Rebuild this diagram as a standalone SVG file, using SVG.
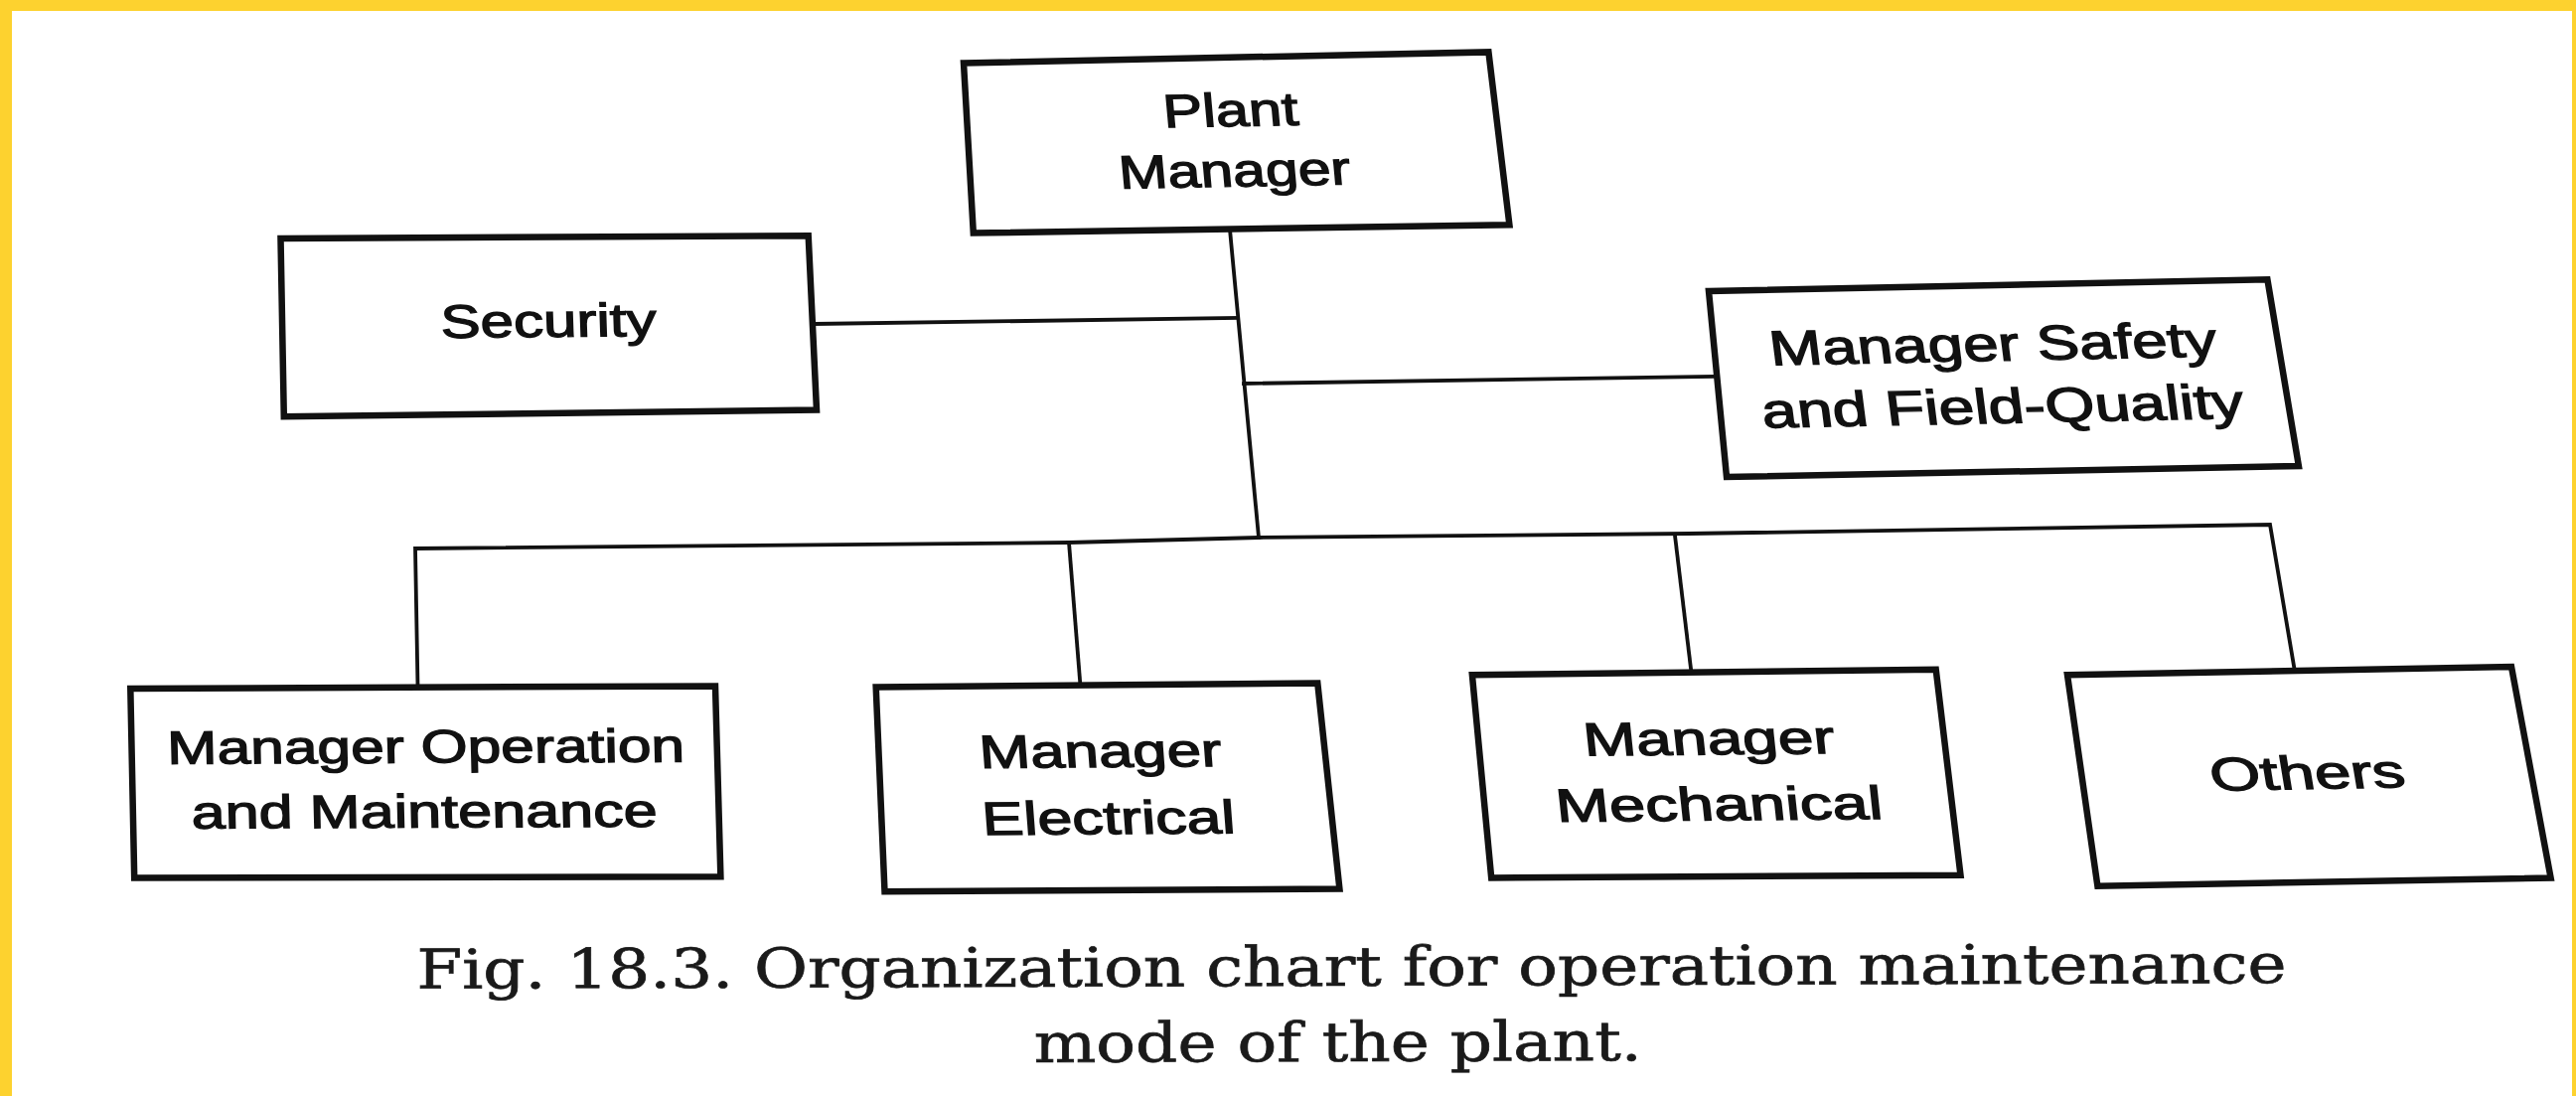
<svg xmlns="http://www.w3.org/2000/svg" width="2593" height="1103" viewBox="0 0 2593 1103">
  <style>
    .box { fill: #ffffff; stroke: #111111; stroke-width: 6.5; stroke-linejoin: miter; }
    .lbl { font-family: "Liberation Sans", Arial, sans-serif; font-size: 47px; fill: #111111; stroke: #111111; stroke-width: 1.3; text-anchor: middle; }
    .conn { fill: none; stroke: #111111; stroke-width: 3.8; stroke-linecap: square; stroke-linejoin: miter; }
    .cap { font-family: "DejaVu Serif", "Liberation Serif", serif; font-size: 55px; fill: #1a1a1a; stroke: #1a1a1a; stroke-width: 0.7; text-anchor: middle; }
  </style>
  <rect x="0" y="0" width="2593" height="1103" fill="#FDD22F"/>
  <rect x="12" y="11" width="2577" height="1092" fill="#ffffff"/>

  <g id="connectors">
    <polyline class="conn" points="1238,231 1267,541"/>
    <polyline class="conn" points="820,326 1246,320"/>
    <polyline class="conn" points="1252,386 1724,379"/>
    <polyline class="conn" points="420.5,691 418,552 1076,546 1267,541 1700,537 2285,528 2310,676"/>
    <polyline class="conn" points="1076,546 1087.4,689"/>
    <polyline class="conn" points="1686,539 1702.5,677"/>
  </g>

  <g id="node-plant-manager">
    <polygon class="box" points="970,63.4 1498.4,52.4 1519.4,226.2 979.8,234.5"/>
    <text class="lbl" transform="matrix(1 -0.018 0.09 1 1240 127)" x="0" y="0" textLength="136" lengthAdjust="spacingAndGlyphs">Plant</text>
    <text class="lbl" transform="matrix(1 -0.018 0.09 1 1244 187.6)" x="0" y="0" textLength="233" lengthAdjust="spacingAndGlyphs">Manager</text>
  </g>

  <g id="node-security">
    <polygon class="box" points="282.5,240 813.7,237.2 822,412.6 285.8,419.3"/>
    <text class="lbl" transform="matrix(1 -0.009 0.033 1 552.5 339)" x="0" y="0" textLength="217" lengthAdjust="spacingAndGlyphs">Security</text>
  </g>

  <g id="node-safety">
    <polygon class="box" points="1720,293 2282.4,281.3 2313.9,469 1738,480"/>
    <text class="lbl" style="font-size:49px" transform="matrix(1 -0.02 0.127 1 2008 363)" x="0" y="0" textLength="450" lengthAdjust="spacingAndGlyphs">Manager Safety</text>
    <text class="lbl" style="font-size:49px" transform="matrix(1 -0.02 0.127 1 2017.7 425.6)" x="0" y="0" textLength="485" lengthAdjust="spacingAndGlyphs">and Field-Quality</text>
  </g>

  <g id="node-operation-maintenance">
    <polygon class="box" points="131.3,693.1 720,690.4 725.4,882.3 135.2,883.4"/>
    <text class="lbl" transform="matrix(1 -0.004 0.024 1 429 767.6)" x="0" y="0" textLength="521" lengthAdjust="spacingAndGlyphs">Manager Operation</text>
    <text class="lbl" transform="matrix(1 -0.004 0.024 1 427.5 832.7)" x="0" y="0" textLength="469" lengthAdjust="spacingAndGlyphs">and Maintenance</text>
  </g>

  <g id="node-electrical">
    <polygon class="box" points="881.7,691.5 1326.3,687.6 1348.4,894.5 890.5,897.2"/>
    <text class="lbl" transform="matrix(1 -0.0075 0.075 1 1108.7 772)" x="0" y="0" textLength="244" lengthAdjust="spacingAndGlyphs">Manager</text>
    <text class="lbl" transform="matrix(1 -0.0075 0.075 1 1117 839.3)" x="0" y="0" textLength="255" lengthAdjust="spacingAndGlyphs">Electrical</text>
  </g>

  <g id="node-mechanical">
    <polygon class="box" points="1481.9,679.3 1948.7,673.8 1973.5,880.7 1501.2,883.5"/>
    <text class="lbl" transform="matrix(1 -0.009 0.107 1 1721.7 759.3)" x="0" y="0" textLength="253" lengthAdjust="spacingAndGlyphs">Manager</text>
    <text class="lbl" transform="matrix(1 -0.009 0.107 1 1731.9 825.5)" x="0" y="0" textLength="329" lengthAdjust="spacingAndGlyphs">Mechanical</text>
  </g>

  <g id="node-others">
    <polygon class="box" points="2081,679.3 2528,671 2567.6,883.5 2111.4,891.7"/>
    <text class="lbl" transform="matrix(1 -0.018 0.165 1 2325 794)" x="0" y="0" textLength="196" lengthAdjust="spacingAndGlyphs">Others</text>
  </g>

  <g id="caption">
    <text class="cap" transform="matrix(1 -0.003 0 1 1360.5 992)" x="0" y="0" textLength="1882" lengthAdjust="spacingAndGlyphs">Fig. 18.3. Organization chart for operation maintenance</text>
    <text class="cap" transform="matrix(1 -0.003 0 1 1346.7 1068)" x="0" y="0" textLength="612" lengthAdjust="spacingAndGlyphs">mode of the plant.</text>
  </g>
</svg>
